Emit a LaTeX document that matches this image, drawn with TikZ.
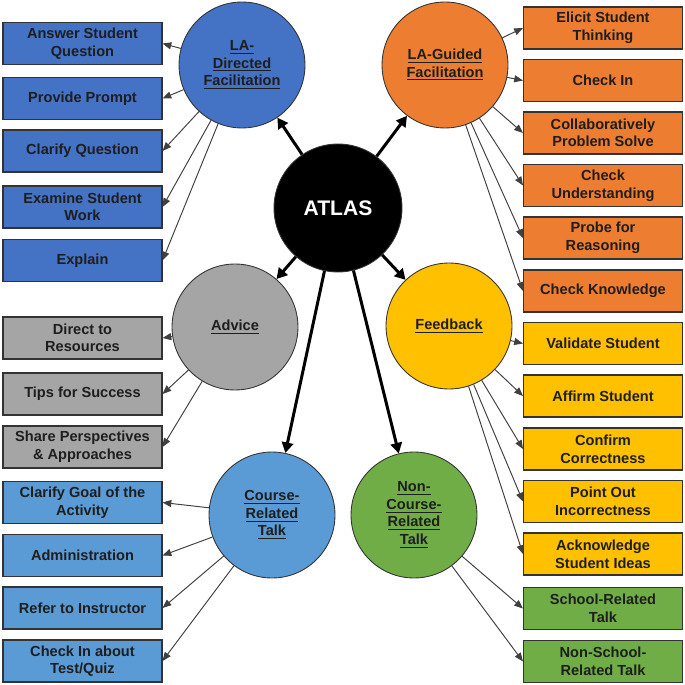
\documentclass[tikz,border=0pt]{standalone}
\usepackage{fontspec}
\setmainfont{Liberation Sans}
\usepackage{tikz}
\usetikzlibrary{arrows.meta}
\definecolor{ladir}{RGB}{68, 114, 196}
\definecolor{laguide}{RGB}{237, 125, 49}
\definecolor{advgray}{RGB}{165, 165, 165}
\definecolor{fbyellow}{RGB}{255, 192, 0}
\definecolor{crtblue}{RGB}{91, 155, 213}
\definecolor{ncgreen}{RGB}{112, 173, 71}
\definecolor{inktext}{RGB}{30, 30, 30}

\begin{document}
\begin{tikzpicture}[x=0.02cm, y=-0.02cm,
    every node/.style={font=\fontsize{8.3}{10}\selectfont\bfseries, text=inktext, align=center},
    hub/.style={circle, draw=black!80, line width=0.5pt, minimum size=2.52cm, inner sep=0pt},
    leaf/.style={rectangle, draw=black!80, line width=0.6pt, minimum width=3.18cm, minimum height=0.84cm, inner sep=1pt},
    thin/.style={draw=black!75, line width=0.55pt, -{Triangle[length=5pt, width=4pt]}},
    thick/.style={draw=black, line width=1.7pt, -{Triangle[length=6pt, width=6.5pt]}}]
  \useasboundingbox (0,0) rectangle (685,685);

  % centre
  \node[hub, fill=black, minimum size=2.56cm, text=white, font=\fontsize{12}{14}\selectfont\bfseries] (atlas) at (338,208) {ATLAS};

  % six categories
  \node[hub, fill=ladir] (dir) at (242,65) {\underline{LA-}\\\underline{Directed}\\\underline{Facilitation}};
  \node[hub, fill=laguide] (guid) at (445,65) {\underline{LA-Guided}\\\underline{Facilitation}};
  \node[hub, fill=advgray] (adv) at (235,327) {\underline{Advice}};
  \node[hub, fill=fbyellow] (fb) at (449,326) {\underline{Feedback}};
  \node[hub, fill=crtblue] (crt) at (272,515) {\underline{Course-}\\\underline{Related}\\\underline{Talk}};
  \node[hub, fill=ncgreen] (nct) at (414,515) {\underline{Non-}\\\underline{Course-}\\\underline{Related}\\\underline{Talk}};

  \draw[thick] (atlas) -- (dir);
  \draw[thick] (atlas) -- (guid);
  \draw[thick] (atlas) -- (adv);
  \draw[thick] (atlas) -- (fb);
  \draw[thick] (atlas) -- (crt);
  \draw[thick] (atlas) -- (nct);

  % LA-directed facilitation
  \node[leaf, fill=ladir] (d1) at (82.5,43.5) {Answer Student\\Question};
  \node[leaf, fill=ladir] (d2) at (82.5,98.5) {Provide Prompt};
  \node[leaf, fill=ladir] (d3) at (82.5,151) {Clarify Question};
  \node[leaf, fill=ladir] (d4) at (82.5,207) {Examine Student\\Work};
  \node[leaf, fill=ladir] (d5) at (82.5,260.5) {Explain};
  \foreach \k in {d1,d2,d3,d4,d5}
    \draw[thin] (dir) -- (\k.east);

  % advice
  \node[leaf, fill=advgray] (a1) at (82.5,338) {Direct to\\Resources};
  \node[leaf, fill=advgray] (a2) at (82.5,394) {Tips for Success};
  \node[leaf, fill=advgray] (a3) at (82.5,447) {Share Perspectives\\\& Approaches};
  \foreach \k in {a1,a2,a3}
    \draw[thin] (adv) -- (\k.east);

  % course-related talk
  \node[leaf, fill=crtblue] (c1) at (82.5,502.5) {Clarify Goal of the\\Activity};
  \node[leaf, fill=crtblue] (c2) at (82.5,555.5) {Administration};
  \node[leaf, fill=crtblue] (c3) at (82.5,608) {Refer to Instructor};
  \node[leaf, fill=crtblue] (c4) at (82.5,661) {Check In about\\Test/Quiz};
  \foreach \k in {c1,c2,c3,c4}
    \draw[thin] (crt) -- (\k.east);

  % LA-guided facilitation
  \node[leaf, fill=laguide] (g1) at (603,28) {Elicit Student\\Thinking};
  \node[leaf, fill=laguide] (g2) at (603,80.5) {Check In};
  \node[leaf, fill=laguide] (g3) at (603,133) {Collaboratively\\Problem Solve};
  \node[leaf, fill=laguide] (g4) at (603,185.5) {Check\\Understanding};
  \node[leaf, fill=laguide] (g5) at (603,238) {Probe for\\Reasoning};
  \node[leaf, fill=laguide] (g6) at (603,291) {Check Knowledge};
  \foreach \k in {g1,g2,g3,g4,g5,g6}
    \draw[thin] (guid) -- (\k.west);

  % feedback
  \node[leaf, fill=fbyellow] (f1) at (603,343.5) {Validate Student};
  \node[leaf, fill=fbyellow] (f2) at (603,396) {Affirm Student};
  \node[leaf, fill=fbyellow] (f3) at (603,449) {Confirm\\Correctness};
  \node[leaf, fill=fbyellow] (f4) at (603,501.5) {Point Out\\Incorrectness};
  \node[leaf, fill=fbyellow] (f5) at (603,554) {Acknowledge\\Student Ideas};
  \foreach \k in {f1,f2,f3,f4,f5}
    \draw[thin] (fb) -- (\k.west);

  % non-course-related talk
  \node[leaf, fill=ncgreen] (n1) at (603,608.5) {School-Related\\Talk};
  \node[leaf, fill=ncgreen] (n2) at (603,661.5) {Non-School-\\Related Talk};
  \foreach \k in {n1,n2}
    \draw[thin] (nct) -- (\k.west);
\end{tikzpicture}
\end{document}
